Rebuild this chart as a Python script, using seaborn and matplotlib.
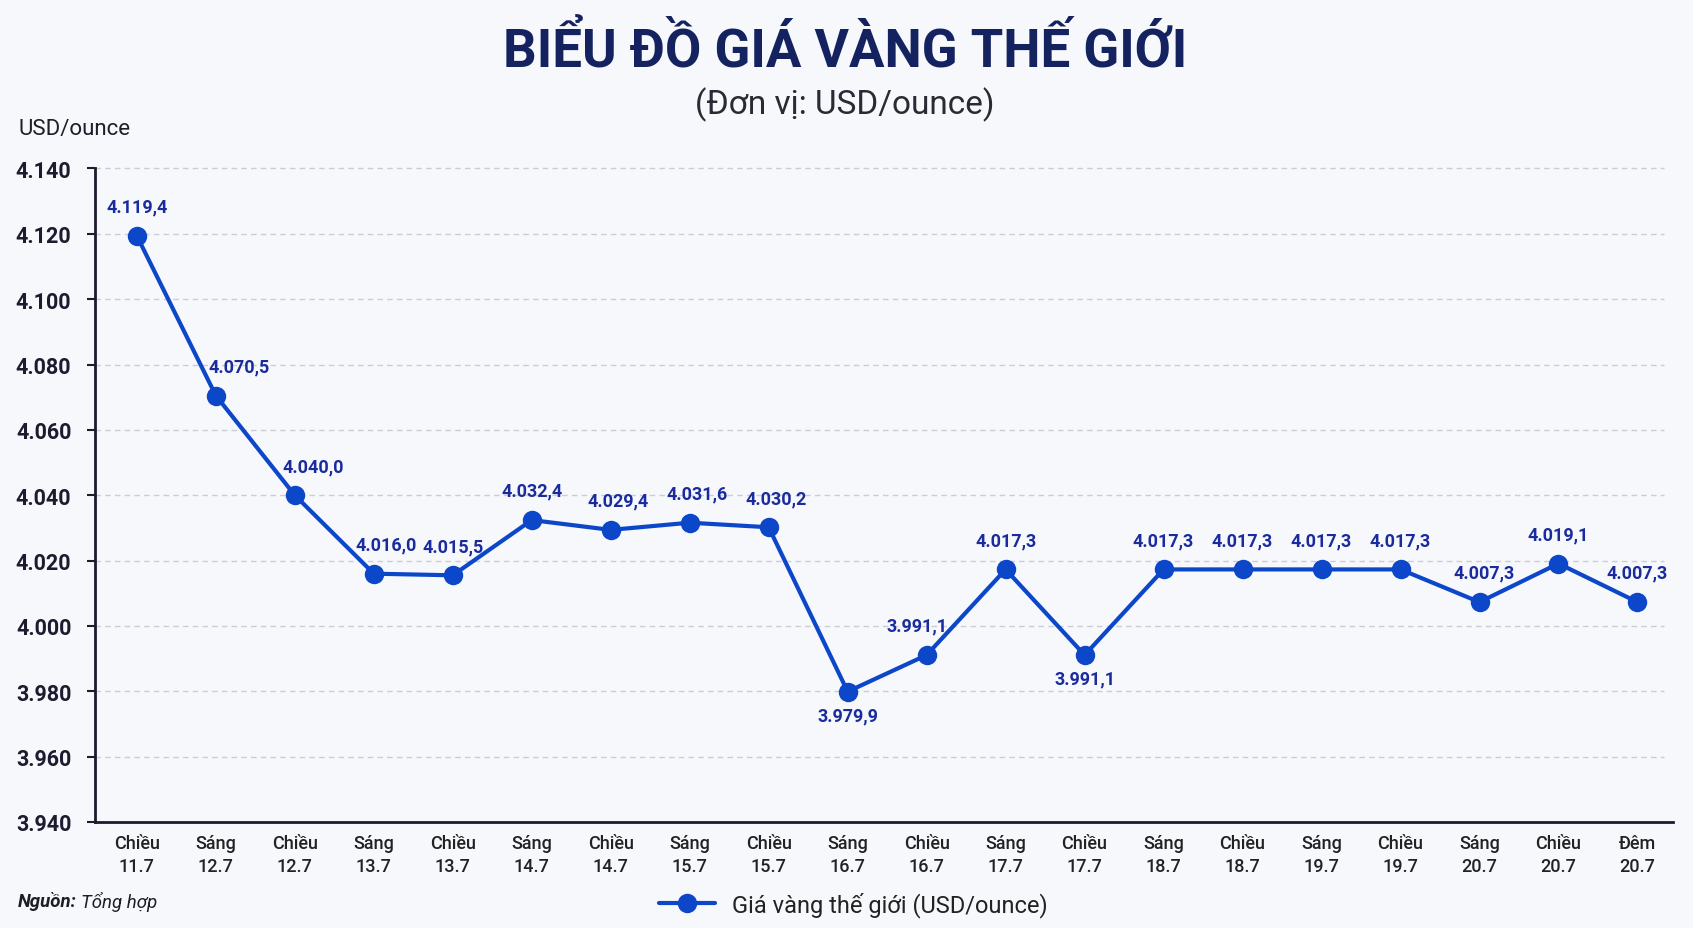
import matplotlib
matplotlib.use("Agg")
import matplotlib.pyplot as plt
import seaborn as sns
import pandas as pd
from matplotlib import font_manager as fm

# ---------------- data ----------------
sessions = ["Chiều", "Sáng", "Chiều", "Sáng", "Chiều", "Sáng", "Chiều", "Sáng", "Chiều", "Sáng",
            "Chiều", "Sáng", "Chiều", "Sáng", "Chiều", "Sáng", "Chiều", "Sáng", "Chiều", "Đêm"]
dates = ["11.7", "12.7", "12.7", "13.7", "13.7", "14.7", "14.7", "15.7", "15.7", "16.7",
         "16.7", "17.7", "17.7", "18.7", "18.7", "19.7", "19.7", "20.7", "20.7", "20.7"]
prices = [4119.4, 4070.5, 4040.0, 4016.0, 4015.5, 4032.4, 4029.4, 4031.6, 4030.2, 3979.9,
          3991.1, 4017.3, 3991.1, 4017.3, 4017.3, 4017.3, 4017.3, 4007.3, 4019.1, 4007.3]
y_ticks = [3940, 3960, 3980, 4000, 4020, 4040, 4060, 4080, 4100, 4120, 4140]
series_name = "Giá vàng thế giới (USD/ounce)"

# ---------------- style ----------------
sns.set_theme(style="white")
available = {f.name for f in fm.fontManager.ttflist}
base_font = "Roboto" if "Roboto" in available else "DejaVu Sans"
plt.rcParams["font.family"] = [base_font, "DejaVu Sans"]

BG = "#f7f8fc"
LINE = "#0d47c9"
LABEL = "#1a2b9e"
NAVY = "#14235f"
DARK = "#1c1c2e"

W, H = 1693, 929
fig = plt.figure(figsize=(W / 100, H / 100), dpi=100, facecolor=BG)
ax = fig.add_axes([95 / W, 1 - 823 / H, (1673 - 95) / W, (823 - 169.5) / H])
ax.set_facecolor(BG)

df = pd.DataFrame({"idx": range(len(prices)), "price": prices})
sns.lineplot(data=df, x="idx", y="price", ax=ax, color=LINE, linewidth=3,
             marker="o", markersize=14, markeredgewidth=0, label=series_name, legend=False)

ax.set_xlim(-0.53, len(prices) - 0.55)
ax.set_ylim(y_ticks[0], y_ticks[-1])
ax.set_yticks(y_ticks)
ax.set_yticklabels([f"{v // 1000}.{v % 1000:03d}" for v in y_ticks],
                   fontsize=15.5, fontweight="bold", color=DARK)
ax.set_xticks(range(len(prices)))
ax.set_xticklabels([f"{s}\n{d}" for s, d in zip(sessions, dates)], fontsize=13,
                   fontweight="medium", color="#222222", linespacing=1.3)
ax.tick_params(axis="y", length=6, width=1.5, color=DARK, pad=11, left=True)
ax.tick_params(axis="x", length=0, pad=9)
ax.set_xlabel("")
ax.set_ylabel("")

for s in ["top", "right"]:
    ax.spines[s].set_visible(False)
for s in ["left", "bottom"]:
    ax.spines[s].set_color(DARK)
    ax.spines[s].set_linewidth(2)

for y in y_ticks[1:]:
    ax.axhline(y, xmin=0, xmax=(1664 - 95) / (1673 - 95), color="#c9cdd6",
               linewidth=1, linestyle=(0, (4, 3)), zorder=0, clip_on=False)


def fmt(v):
    whole = int(v)
    dec = int(round((v - whole) * 10))
    return f"{whole // 1000}.{whole % 1000:03d},{dec}"


below = {9, 12}
shift_x = {1: 17, 2: 13, 3: 9, 6: 5, 7: 5, 8: 5, 10: -7, 17: 3}
for i, v in enumerate(prices):
    dx = shift_x.get(i, 0)
    dy = -17 if i in below else 21
    ax.annotate(fmt(v), (i, v), xytext=(dx, dy), textcoords="offset points",
                ha="center", va="center", fontsize=13, fontweight="bold", color=LABEL)

# titles
fig.text(845 / W, 1 - 51 / H, "BIỂU ĐỒ GIÁ VÀNG THẾ GIỚI", ha="center", va="center",
         fontsize=38, fontweight="bold", color=NAVY)
fig.text(845 / W, 1 - 105 / H, "(Đơn vị: USD/ounce)", ha="center", va="center",
         fontsize=24, color="#2a2a35")
fig.text(18 / W, 1 - 130 / H, "USD/ounce", ha="left", va="center", fontsize=16, color="#1e1e28")

# source
t1 = fig.text(18 / W, 1 - 902 / H, "Nguồn:", ha="left", va="center", fontsize=13.4,
              fontweight="bold", fontstyle="italic", color="#1e1e28")
fig.canvas.draw()
bb = t1.get_window_extent(renderer=fig.canvas.get_renderer())
fig.text((bb.x1 + 4) / W, 1 - 902 / H, "Tổng hợp", ha="left", va="center", fontsize=13.4,
         fontstyle="italic", color="#1e1e28")

# legend
handles, labels = ax.get_legend_handles_labels()
leg = fig.legend(handles, labels, loc="center", bbox_to_anchor=(853 / W, 1 - 905 / H),
                 frameon=False, fontsize=17, handlelength=2.4, handletextpad=0.7)
for t in leg.get_texts():
    t.set_color("#222222")

fig.savefig("out.png", dpi=100, facecolor=BG)
